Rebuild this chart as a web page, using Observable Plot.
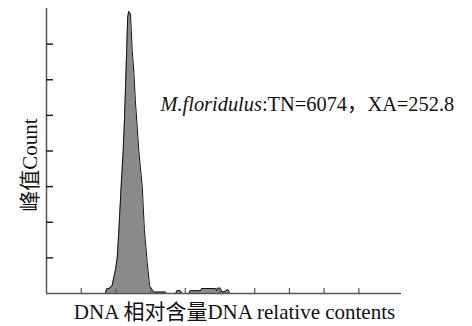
<!DOCTYPE html>
<html>
<head>
<meta charset="utf-8">
<script src="https://cdn.jsdelivr.net/npm/d3@7"></script>
<script src="https://cdn.jsdelivr.net/npm/@observablehq/plot@0.6"></script>
<style>
  html, body { margin: 0; padding: 0; background: #fff; }
</style>
</head>
<body>
<div id="chart"></div>
<script>
// DNA relative content channels and histogram counts (outline of the histogram)
const channels = [0, 170, 173, 180, 189, 194, 199, 204, 208, 215, 221, 225, 228, 231, 234, 237, 242, 247, 252, 256, 266, 276, 282, 290, 297, 305, 309, 343, 346, 372, 376, 386, 390, 410, 414, 444, 447, 487, 490, 492, 501, 505, 515, 519, 524, 528, 1020];
const counts   = [0,   0, 0.13, 0.14, 0.22, 0.45, 0.68, 1.02, 1.68, 2.98, 4.01, 4.95, 5.89, 6.82, 7.76, 7.92, 7.85, 6.82, 6.18, 5.42, 4.01, 2.98, 1.80, 0.90, 0.22, 0.10, 0.04, 0.04, 0, 0, 0.08, 0.08, 0, 0, 0.08, 0.08, 0.14, 0.14, 0.08, 0.15, 0.15, 0.05, 0.05, 0.10, 0.10, 0, 0];
const xTicks = [100, 200, 300, 400, 500, 600, 700, 800, 900];
const yTicks = [1, 2, 3, 4, 5, 6, 7];
const xLabel = "DNA 相对含量DNA relative contents";
const yLabel = "峰值Count";
const noteItalic = "M.floridulus";
const noteRest = ":TN=6074，XA=252.8";

const data = channels.map((c, i) => ({channel: c, count: counts[i]}));
const font = "'Liberation Serif', 'Times New Roman', 'Noto Sans CJK SC', serif";

const chart = Plot.plot({
  width: 472,
  height: 326,
  marginLeft: 46,
  marginRight: 72,
  marginTop: 8,
  marginBottom: 33,
  style: {background: "#fff", fontFamily: font},
  x: {domain: [0, 1020], axis: null},
  y: {domain: [0, 8], axis: null},
  marks: [
    Plot.areaY(data, {x: "channel", y: "count", fill: "#8a8a8a", curve: "linear"}),
    Plot.lineY(data, {x: "channel", y: "count", stroke: "#111", strokeWidth: 1, curve: "linear"}),
    Plot.ruleX([0], {stroke: "#555", strokeWidth: 1.5}),
    Plot.ruleY([0], {stroke: "#555", strokeWidth: 1.5}),
    Plot.tickX(xTicks, {x: d => d, insetTop: 280, stroke: "#555", strokeWidth: 1.2}),
    Plot.tickY(yTicks, {y: d => d, insetRight: 347, stroke: "#222", strokeWidth: 1.5}),
    Plot.text([xLabel], {frameAnchor: "bottom", dx: 11, dy: 25, fontSize: 21, fill: "#111", fontFamily: font}),
    Plot.text([yLabel], {frameAnchor: "left", textAnchor: "middle", lineAnchor: "middle", dx: -16, dy: 14, rotate: -90, fontSize: 21, fill: "#111", fontFamily: font, className: "ylab"}),
    Plot.text([noteItalic + noteRest], {frameAnchor: "top-left", dx: 114, dy: 88, textAnchor: "start", fontSize: 20.4, fill: "#111", fontFamily: font, className: "note"})
  ]
});

document.getElementById("chart").appendChild(chart);

// split the annotation into italic species name + normal text
const noteText = chart.querySelector(".note text");
if (noteText) {
  noteText.textContent = "";
  const ns = "http://www.w3.org/2000/svg";
  const t1 = document.createElementNS(ns, "tspan");
  t1.setAttribute("font-style", "italic");
  t1.textContent = noteItalic;
  const t2 = document.createElementNS(ns, "tspan");
  t2.textContent = noteRest;
  noteText.appendChild(t1);
  noteText.appendChild(t2);
}
</script>
</body>
</html>
